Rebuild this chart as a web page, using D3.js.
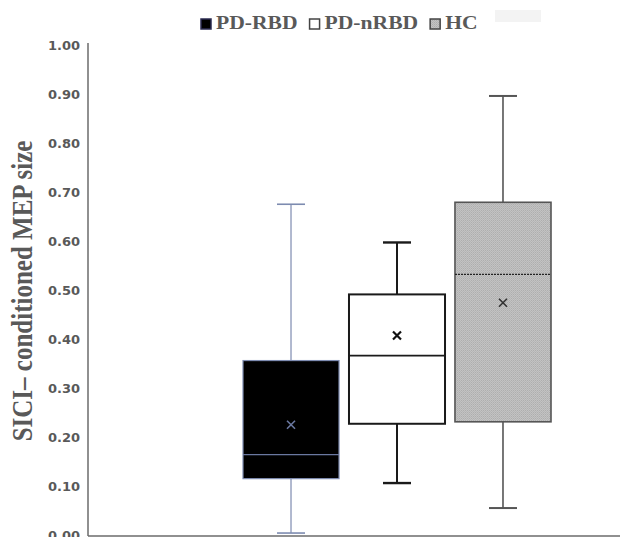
<!DOCTYPE html>
<html>
<head>
<meta charset="utf-8">
<script src="https://cdn.jsdelivr.net/npm/d3@7"></script>
<style>
  body { margin: 0; background: #fff; }
  svg { display: block; }
</style>
</head>
<body>
<div id="chart"></div>
<script>
'use strict';

// box stats
const groups = ["PD-RBD", "PD-nRBD", "HC"];
const mins    = [0.004, 0.106, 0.055];
const q1s     = [0.115, 0.227, 0.231];
const medians = [0.164, 0.366, 0.532];
const q3s     = [0.356, 0.491, 0.679];
const maxs    = [0.675, 0.597, 0.896];
const means   = [0.225, 0.407, 0.474];
const yTicks  = [0, 0.1, 0.2, 0.3, 0.4, 0.5, 0.6, 0.7, 0.8, 0.9, 1.0];

const width = 626, height = 537;

const styles = {
  "PD-RBD":  { fill: "#000", stroke: "#7d8bb0", whisker: "#7d8bb0", sw: 1.2, median: "#6a78a0", dash: null, mean: "#6a78a0" },
  "PD-nRBD": { fill: "#fff", stroke: "#1a1a1a", whisker: "#1a1a1a", sw: 2, median: "#1a1a1a", dash: null, mean: "#111" },
  "HC":      { fill: "url(#dots)", stroke: "#555", whisker: "#555", sw: 1.6, median: "#222", dash: "2,1", mean: "#333" }
};

const data = groups.map((g, i) => ({
  name: g, min: mins[i], q1: q1s[i], median: medians[i], q3: q3s[i], max: maxs[i], mean: means[i]
}));

const svg = d3.select("#chart").append("svg")
  .attr("width", width)
  .attr("height", height);

// dotted grey fill for HC
const pat = svg.append("defs").append("pattern")
  .attr("id", "dots")
  .attr("width", 2).attr("height", 2)
  .attr("patternUnits", "userSpaceOnUse");
pat.append("rect").attr("width", 2).attr("height", 2).attr("fill", "#c3c3c3");
pat.append("rect").attr("width", 1).attr("height", 1).attr("fill", "#adadad");
pat.append("rect").attr("x", 1).attr("y", 1).attr("width", 1).attr("height", 1).attr("fill", "#b6b6b6");

const x = d3.scaleBand().domain(groups).range([243, 551]).paddingInner(0.094).paddingOuter(0);
const y = d3.scaleLinear().domain([0, 1]).range([535, 45]);

const axisColor = "#6b6b6b";
const axisX = 88, axisRight = 620;

// y axis labels
const yAxis = d3.axisLeft(y).tickValues(yTicks).tickSize(0).tickPadding(8)
  .tickFormat(d3.format(".2f"));
const gy = svg.append("g")
  .attr("transform", "translate(" + axisX + ",0)")
  .call(yAxis);
gy.select(".domain").remove();
gy.selectAll("text")
  .attr("font-family", "'DejaVu Sans', Verdana, sans-serif")
  .attr("font-weight", "bold")
  .attr("font-size", 13)
  .attr("fill", "#595959");

// axis lines
svg.append("line")
  .attr("x1", axisX).attr("x2", axisX)
  .attr("y1", y(1) - 2).attr("y2", y(0) + 1)
  .attr("stroke", axisColor).attr("stroke-width", 1.5);
svg.append("line")
  .attr("x1", axisX).attr("x2", axisRight)
  .attr("y1", y(0) + 1).attr("y2", y(0) + 1)
  .attr("stroke", axisColor).attr("stroke-width", 1.5);

// axis title (source image is stretched sideways a bit)
svg.append("text")
  .attr("transform", "translate(32," + ((y(1) + y(0)) / 2 + 1) + ") scale(1.2,1) rotate(-90)")
  .attr("text-anchor", "middle")
  .attr("font-family", "'Liberation Serif', 'Times New Roman', serif")
  .attr("font-weight", "bold")
  .attr("font-size", 25)
  .attr("fill", "#595959")
  .text("SICI\u2013 conditioned MEP size");

// boxes
const bw = x.bandwidth();
const capW = 28;
const boxes = svg.selectAll("g.box").data(data).enter()
  .append("g")
  .attr("class", "box")
  .attr("transform", d => "translate(" + x(d.name) + ",0)");

// whiskers
boxes.append("line")
  .attr("x1", bw / 2).attr("x2", bw / 2)
  .attr("y1", d => y(d.max)).attr("y2", d => y(d.q3))
  .attr("stroke", d => styles[d.name].whisker).attr("stroke-width", d => styles[d.name].sw);
boxes.append("line")
  .attr("x1", bw / 2).attr("x2", bw / 2)
  .attr("y1", d => y(d.q1)).attr("y2", d => y(d.min))
  .attr("stroke", d => styles[d.name].whisker).attr("stroke-width", d => styles[d.name].sw);
boxes.append("line")
  .attr("x1", bw / 2 - capW / 2).attr("x2", bw / 2 + capW / 2)
  .attr("y1", d => y(d.max)).attr("y2", d => y(d.max))
  .attr("stroke", d => styles[d.name].whisker).attr("stroke-width", d => styles[d.name].sw + 0.4);
boxes.append("line")
  .attr("x1", bw / 2 - capW / 2).attr("x2", bw / 2 + capW / 2)
  .attr("y1", d => y(d.min)).attr("y2", d => y(d.min))
  .attr("stroke", d => styles[d.name].whisker).attr("stroke-width", d => styles[d.name].sw + 0.4);

// box body
boxes.append("rect")
  .attr("x", 0)
  .attr("width", bw)
  .attr("y", d => y(d.q3))
  .attr("height", d => y(d.q1) - y(d.q3))
  .attr("fill", d => styles[d.name].fill)
  .attr("stroke", d => styles[d.name].stroke)
  .attr("stroke-width", d => styles[d.name].sw);

// median
boxes.append("line")
  .attr("x1", 0).attr("x2", bw)
  .attr("y1", d => y(d.median)).attr("y2", d => y(d.median))
  .attr("stroke", d => styles[d.name].median)
  .attr("stroke-width", d => d.name === "PD-nRBD" ? 1.6 : 1.2)
  .attr("stroke-dasharray", d => styles[d.name].dash);

// mean marker
const m = 4;
boxes.append("path")
  .attr("d", d => {
    const cx = bw / 2, cy = y(d.mean);
    return "M" + (cx - m) + "," + (cy - m) + "L" + (cx + m) + "," + (cy + m) +
      "M" + (cx - m) + "," + (cy + m) + "L" + (cx + m) + "," + (cy - m);
  })
  .attr("stroke", d => styles[d.name].mean)
  .attr("stroke-width", d => d.name === "PD-nRBD" ? 2.2 : 1.6)
  .attr("fill", "none");

// legend
const legend = svg.append("g").attr("class", "legend");
let lx = 200;
groups.forEach(g => {
  const st = styles[g];
  legend.append("rect")
    .attr("x", lx + 1).attr("y", 19)
    .attr("width", 10).attr("height", 10)
    .attr("fill", st.fill)
    .attr("stroke", g === "PD-RBD" ? "#2a2a50" : "#444")
    .attr("stroke-width", 1.5);
  const t = legend.append("text")
    .attr("transform", "translate(" + (lx + 16) + ",29) scale(1.2,1)")
    .attr("font-family", "'Liberation Serif', 'Times New Roman', serif")
    .attr("font-weight", "bold")
    .attr("font-size", 18)
    .attr("fill", "#595959")
    .text(g);
  lx += 16 + t.node().getComputedTextLength() * 1.2 + 11;
});

// faint leftover box right of the legend
svg.append("rect")
  .attr("x", 495).attr("y", 10)
  .attr("width", 46).attr("height", 12)
  .attr("fill", "#f3f3f3");
</script>
</body>
</html>
